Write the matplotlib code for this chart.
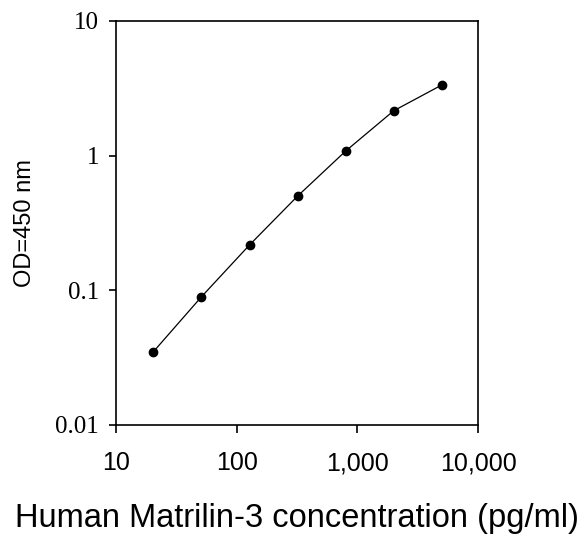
import matplotlib
matplotlib.use('Agg')
import matplotlib.pyplot as plt

# standard curve, 2.5-fold dilutions
conc = [20.48, 51.2, 128, 320, 800, 2000, 5000]
od = [0.035, 0.0895, 0.217, 0.50, 1.08, 2.15, 3.34]

x_ticks = [10, 100, 1000, 10000]
x_labels = ['10', '100', '1,000', '10,000']
y_ticks = [0.01, 0.1, 1, 10]
y_labels = ['0.01', '0.1', '1', '10']

fig = plt.figure(figsize=(5.88, 5.37), dpi=100)
ax = fig.add_axes([0.197, 0.2086, 0.616, 0.7525])

ax.plot(conc, od, c='black', linewidth=0.9, marker='o', markersize=6)
ax.set_xscale('log')
ax.set_yscale('log')
ax.set_xlim(10, 10000)
ax.set_ylim(0.01, 10)

ax.set_xticks(x_ticks)
ax.set_xticklabels(x_labels, fontsize=18, family='Liberation Sans')
ax.set_yticks(y_ticks)
ax.set_yticklabels(y_labels, fontsize=18, family='Liberation Serif')
ax.minorticks_off()
ax.tick_params(axis='x', length=6, width=1.2, pad=13)
ax.tick_params(axis='y', length=5, width=1.2, pad=7)

for key, spine in ax.spines.items():
    spine.set_linewidth(1.2)

ax.set_xlabel('Human Matrilin-3 concentration (pg/ml)', fontsize=23.5,
              family='Liberation Sans', labelpad=20)
ax.set_ylabel('OD=450 nm', fontsize=17, family='Liberation Sans', labelpad=14)

fig.savefig('out.png', dpi=100)
